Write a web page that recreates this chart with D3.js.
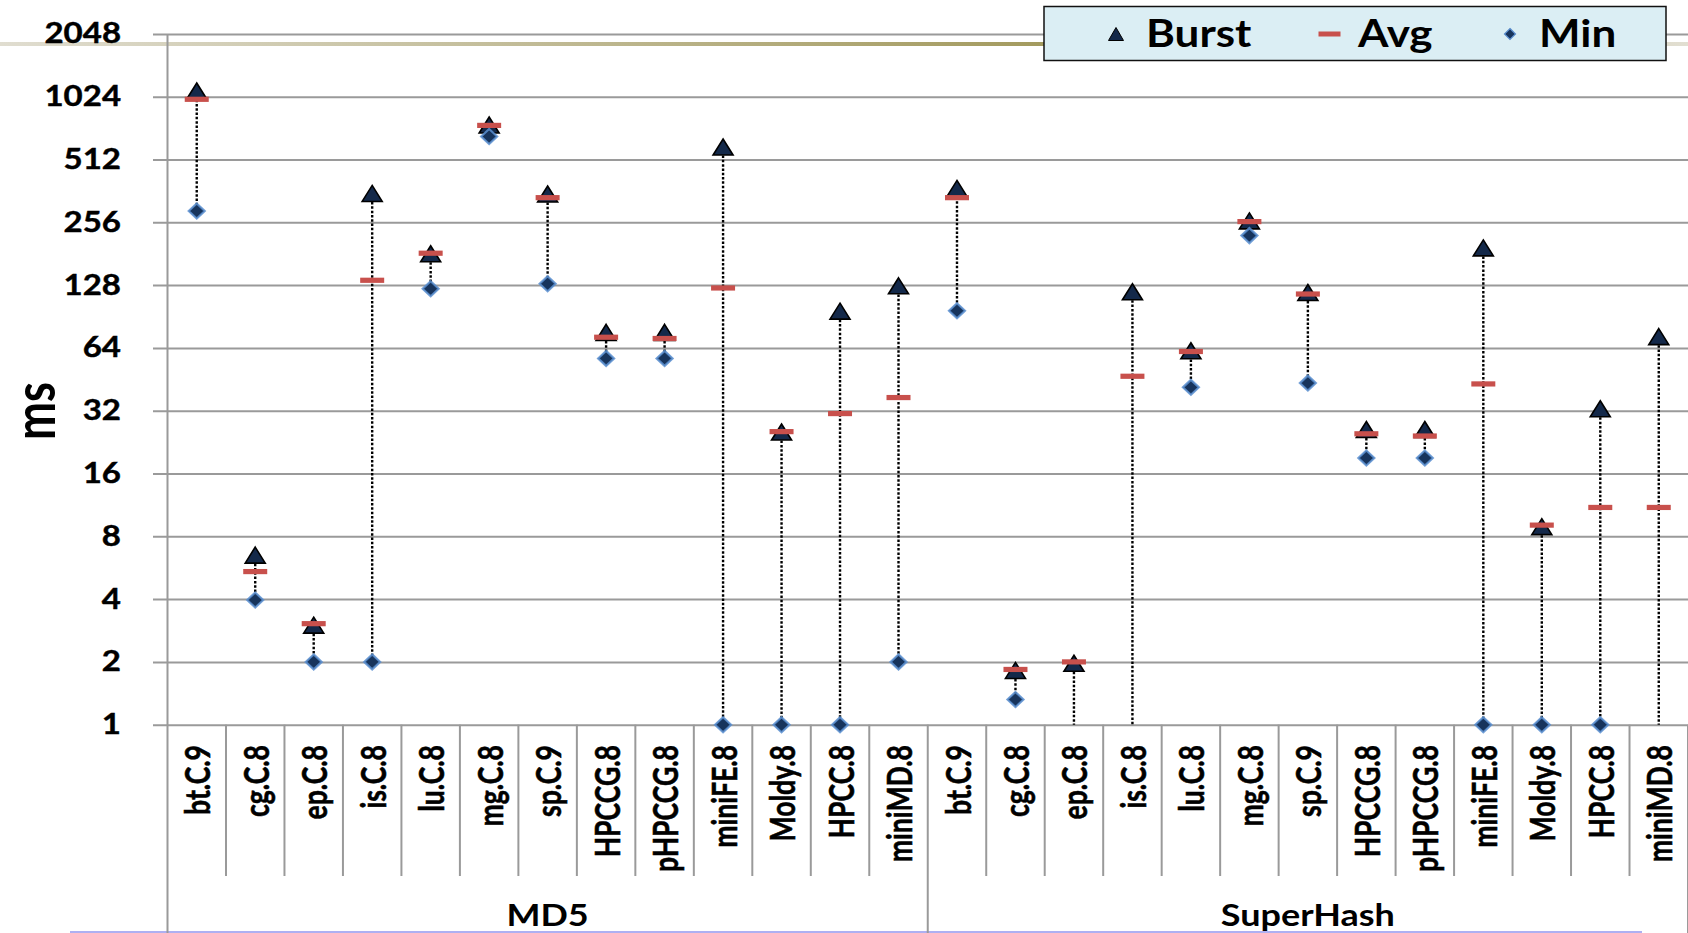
<!DOCTYPE html>
<html><head><meta charset="utf-8">
<script src="https://cdn.jsdelivr.net/npm/d3@7"></script>
<style>
body{margin:0;background:#fff;}
svg{display:block;font-family:Lato,'Open Sans',sans-serif;font-weight:700;}
</style>
</head><body>
<svg id="c" width="1688" height="933"></svg>
<script>
// ---- data ----
const groups = ["MD5", "SuperHash"];
const benchmarks = ["bt.C.9","cg.C.8","ep.C.8","is.C.8","lu.C.8","mg.C.8","sp.C.9","HPCCG.8","pHPCCG.8","miniFE.8","Moldy.8","HPCC.8","miniMD.8"];
const burstMD5 = [1090, 6.5, 3.0, 352, 181, 749, 350, 76, 76, 588, 25.3, 96, 127];
const avgMD5   = [995, 5.42, 3.05, 135, 182, 746, 336, 72, 71, 124, 25.4, 31, 37];
const minMD5   = [290, 3.96, 2, 2, 123, 660, 130, 57, 57, 1, 1, 1, 2];
const burstSH  = [372, 1.82, 1.97, 119, 62, 260, 118, 26, 26, 193, 8.9, 32.7, 72.5];
const avgSH    = [336, 1.84, 2.0, 46.8, 61.5, 258, 116, 24.8, 24.2, 43, 9.05, 11, 11];
const minSH    = [96.5, 1.32, 0, 0, 41.4, 221, 43.4, 19, 19, 1, 1, 1, 0];
const yTicks   = [1, 2, 4, 8, 16, 32, 64, 128, 256, 512, 1024, 2048];
const seriesNames = ["Burst", "Avg", "Min"];

const rows = [];
groups.forEach((g, gi) => {
  const B = gi === 0 ? burstMD5 : burstSH;
  const A = gi === 0 ? avgMD5 : avgSH;
  const M = gi === 0 ? minMD5 : minSH;
  benchmarks.forEach((b, i) => rows.push({group: g, bench: b, key: g + "|" + b, burst: B[i], avg: A[i], min: M[i]}));
});

// ---- layout ----
const svg = d3.select("#c");
const X0 = 167.5, X1 = 1688, YB = 724.7, YT = 33.9;
const x = d3.scaleBand().domain(rows.map(d => d.key)).range([X0, X1]).padding(0);
const y = d3.scaleLog().base(2).domain([1, 2048]).range([YB, YT]).clamp(true);
const GRID = "#9a9a9a";

// slide decoration line (gradient) at top
const defs = svg.append("defs");
const lg = defs.append("linearGradient").attr("id", "deco").attr("x1", "0%").attr("x2", "100%");
lg.append("stop").attr("offset", "0%").attr("stop-color", "#e0ddd0");
lg.append("stop").attr("offset", "62%").attr("stop-color", "#a39a5e");
lg.append("stop").attr("offset", "100%").attr("stop-color", "#e2dfd2");
svg.append("rect").attr("x", 0).attr("y", 42).attr("width", 1688).attr("height", 4).attr("fill", "url(#deco)");

// bottom light-blue slide line
svg.append("rect").attr("x", 70).attr("y", 931).attr("width", 1572).attr("height", 2).attr("fill", "#aeb0f2");

// gridlines + y tick labels
const yAxis = d3.axisLeft(y).tickValues(yTicks).tickFormat(d3.format("d"))
  .tickSizeInner(-(X1 - 153)).tickSizeOuter(0).tickPadding(32);
const gy = svg.append("g").attr("transform", "translate(153,0)").call(yAxis);
gy.select(".domain").remove();
gy.selectAll(".tick line").attr("stroke", GRID).attr("stroke-width", 2);
gy.selectAll(".tick text").attr("fill", "#000").attr("font-size", 33).attr("font-weight", 700)
  .attr("font-family", "Lato, sans-serif").attr("stroke", "#000").attr("stroke-width", 0.5)
  .attr("transform", "scale(1,0.85)");

// y axis line
svg.append("line").attr("x1", X0).attr("x2", X0).attr("y1", YT).attr("y2", 933).attr("stroke", GRID).attr("stroke-width", 2);

// category separators
const bounds = rows.map(d => x(d.key)).concat([X1]);
bounds.forEach((bx, i) => {
  const isGroup = (i % benchmarks.length === 0);
  if (i === 0) return;
  svg.append("line").attr("x1", bx).attr("x2", bx).attr("y1", YB)
    .attr("y2", isGroup ? 933 : 876).attr("stroke", GRID).attr("stroke-width", 2);
});

// category labels
svg.append("g").selectAll("text").data(rows).join("text")
  .attr("transform", d => `translate(${x(d.key) + x.bandwidth() / 2},745) rotate(-90) scale(0.76,1)`)
  .attr("text-anchor", "end").attr("dominant-baseline", "central")
  .attr("font-size", 35).attr("fill", "#000").attr("stroke", "#000").attr("stroke-width", 0.6)
  .text(d => d.bench);

// group labels
groups.forEach(g => {
  const keys = rows.filter(d => d.group === g).map(d => d.key);
  const cx = (x(keys[0]) + x(keys[keys.length - 1]) + x.bandwidth()) / 2;
  svg.append("text").attr("transform", `translate(${cx},915) scale(1,0.85)`)
    .attr("text-anchor", "middle").attr("dy", "0.36em").attr("font-size", 36).attr("fill", "#000").text(g);
});

// y label
svg.append("text").attr("transform", "translate(32,411) rotate(-90)")
  .attr("text-anchor", "middle").attr("dominant-baseline", "central")
  .attr("font-size", 58).attr("textLength", 58).attr("lengthAdjust", "spacingAndGlyphs")
  .attr("fill", "#000").text("ms");

// high-low dotted lines
const cx = d => x(d.key) + x.bandwidth() / 2;
svg.append("g").selectAll("line").data(rows).join("line")
  .attr("x1", cx).attr("x2", cx)
  .attr("y1", d => y(d.burst)).attr("y2", d => y(Math.max(d.min, 1)))
  .attr("stroke", "#000").attr("stroke-width", 2.4).attr("stroke-dasharray", "2.5,1.8");

const triPath = (w, h) => `M0,${-h / 2}L${w / 2},${h / 2}L${-w / 2},${h / 2}Z`;
const diaPath = (w, h) => `M0,${-h / 2}L${w / 2},0L0,${h / 2}L${-w / 2},0Z`;

// Burst triangles
svg.append("g").selectAll("path").data(rows).join("path")
  .attr("transform", d => `translate(${cx(d)},${y(d.burst)})`)
  .attr("d", triPath(20, 16)).attr("fill", "#14294a").attr("stroke", "#000").attr("stroke-width", 1.6);

// Avg dashes
svg.append("g").selectAll("rect").data(rows).join("rect")
  .attr("x", d => cx(d) - 12).attr("y", d => y(d.avg) - 2.6)
  .attr("width", 24).attr("height", 5.2).attr("fill", "#c8504c");

// Min diamonds
svg.append("g").selectAll("path").data(rows.filter(d => d.min >= 1)).join("path")
  .attr("transform", d => `translate(${cx(d)},${y(d.min)})`)
  .attr("d", diaPath(16, 15)).attr("fill", "#17345c").attr("stroke", "#5b8fd0").attr("stroke-width", 2.2).attr("stroke-opacity", 0.85);

// legend
const leg = svg.append("g");
leg.append("rect").attr("x", 1044).attr("y", 6.5).attr("width", 622).attr("height", 54)
  .attr("fill", "#dbeef4").attr("stroke", "#111").attr("stroke-width", 1.5);
const legItems = [
  {name: seriesNames[0], sx: 1116, tx: 1146},
  {name: seriesNames[1], sx: 1329.5, tx: 1358},
  {name: seriesNames[2], sx: 1510, tx: 1539}
];
legItems.forEach((it, i) => {
  if (i === 0) leg.append("path").attr("transform", `translate(${it.sx},34)`).attr("d", triPath(15, 13)).attr("fill", "#14294a").attr("stroke", "#000").attr("stroke-width", 1);
  if (i === 1) leg.append("rect").attr("x", it.sx - 11).attr("y", 31.5).attr("width", 22).attr("height", 5).attr("fill", "#c8504c");
  if (i === 2) leg.append("path").attr("transform", `translate(${it.sx},34)`).attr("d", diaPath(11, 11)).attr("fill", "#17345c").attr("stroke", "#5b8fd0").attr("stroke-width", 1.2);
  leg.append("text").attr("transform", `translate(${it.tx},34) scale(1,0.85)`).attr("dy", "0.36em")
    .attr("font-size", 44).attr("fill", "#000").text(it.name);
});
</script>
</body></html>
